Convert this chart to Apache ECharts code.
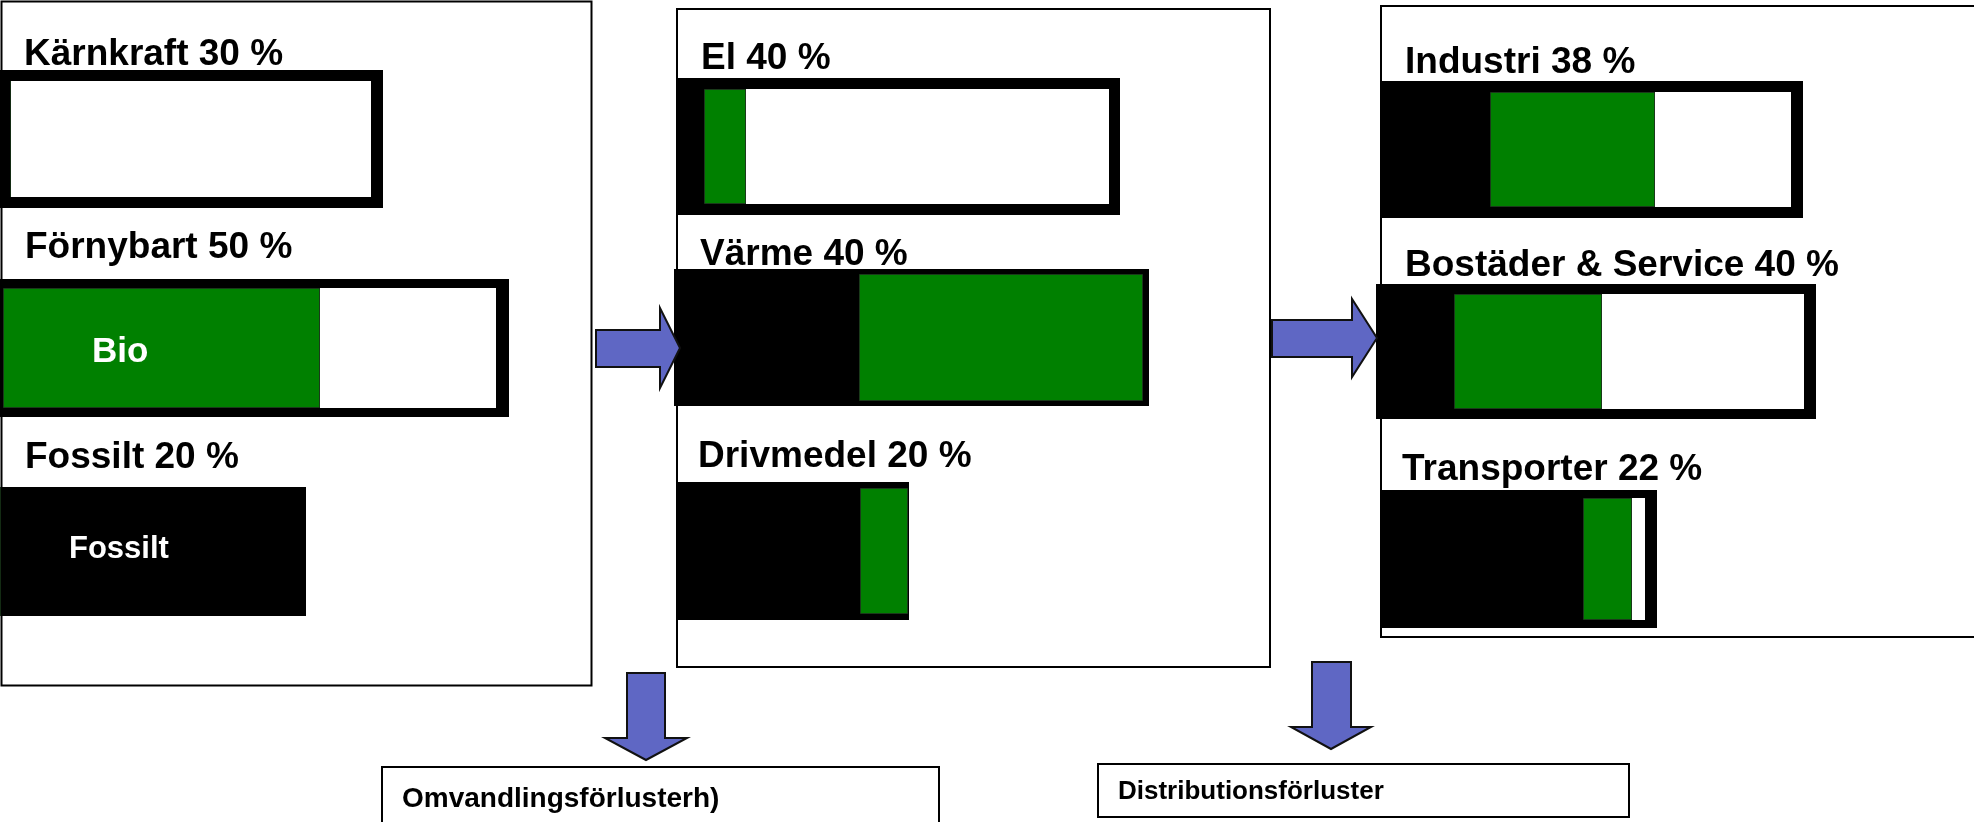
<!DOCTYPE html>
<html>
<head>
<meta charset="UTF-8">
<title>Energiflöden</title>
<script src="https://cdn.jsdelivr.net/npm/echarts@6/dist/echarts.min.js"></script>
<style>
  html, body { margin: 0; padding: 0; background: #fff; }
</style>
</head>
<body>
<div id="main" style="width:1974px;height:822px;"></div>
<script type="text/javascript">
// rader: tillförsel, omvandling, användning
var names = ['Kärnkraft', 'Förnybart', 'Fossilt', 'El', 'Värme', 'Drivmedel', 'Industri', 'Bostäder & Service', 'Transporter'];
var shares = [30, 50, 20, 40, 40, 20, 38, 40, 22];
// staplarnas längder (godtycklig enhet)
var barTotal = [76.6, 101.8, 61.2, 88.8, 95, 46.4, 84.6, 88, 55.4];
var fossilPart = [2.2, 0.6, 0, 5.6, 37, 36.6, 22, 15.6, 40.6];
var bioPart = [0, 63.4, 0, 8.4, 56.8, 9.6, 33, 29.6, 9.8];
var restPart = [72, 35.2, 0, 72.6, 0, 0, 27.2, 40.4, 2.6];
var lossLabels = ['Omvandlingsförlusterh)', 'Distributionsförluster'];

// layout: [vänster, topp, höjd, inre marginal]
var barBox = [
  [0, 70, 138, 11], [0, 279, 138, 9], [0, 487, 129, 0],
  [676, 78, 137, 11], [674, 269, 137, 5], [677, 482, 138, 6],
  [1380, 81, 137, 11], [1376, 284, 135, 10], [1380, 490, 138, 8]
];
// rubrikernas position: [x, mitt y]
var labelPos = [
  [24, 55], [25, 248], [25, 458],
  [701, 59], [700, 255], [698, 457],
  [1405, 63], [1405, 266], [1402, 470]
];

var X_MAX = 110;
var UNIT = 5;
var GREEN = '#008000';
var ARROW = '#5f67c4';
var FONT = '"Liberation Sans", Arial, sans-serif';

var myChart = echarts.init(document.getElementById('main'));

var option = {
  animation: false,
  backgroundColor: '#fff',
  grid: [],
  xAxis: [],
  yAxis: [],
  series: [],
  graphic: { elements: [] }
};

for (var i = 0; i < names.length; i++) {
  var b = barBox[i];
  option.grid.push({
    left: b[0], top: b[1], width: X_MAX * UNIT, height: b[2],
    containLabel: false
  });
  option.xAxis.push({ type: 'value', gridIndex: i, min: 0, max: X_MAX, show: false });
  option.yAxis.push({ type: 'category', gridIndex: i, data: [names[i]], show: false });
  option.yAxis.push({ type: 'category', gridIndex: i, data: [names[i]], show: false });
  var yFrame = i * 2, yInner = i * 2 + 1;
  var inner = b[2] - 2 * b[3];
  // ram
  option.series.push({
    type: 'bar', xAxisIndex: i, yAxisIndex: yFrame, barWidth: '100%',
    data: [barTotal[i]], itemStyle: { color: '#000' }, silent: true
  });
  option.series.push({
    type: 'bar', xAxisIndex: i, yAxisIndex: yInner, stack: 's' + i, barWidth: inner,
    data: [fossilPart[i]], itemStyle: { color: '#000' }, silent: true
  });
  option.series.push({
    type: 'bar', xAxisIndex: i, yAxisIndex: yInner, stack: 's' + i, barWidth: inner,
    data: [bioPart[i]], itemStyle: { color: GREEN, borderColor: '#1a3a1a', borderWidth: 1 }, silent: true
  });
  option.series.push({
    type: 'bar', xAxisIndex: i, yAxisIndex: yInner, stack: 's' + i, barWidth: inner,
    data: [restPart[i]], itemStyle: { color: '#fff' }, silent: true
  });

  option.graphic.elements.push({
    type: 'text', x: labelPos[i][0], y: labelPos[i][1], z: 20,
    style: {
      text: names[i] + ' ' + shares[i] + ' %', fill: '#000',
      font: 'bold 37px ' + FONT, verticalAlign: 'middle', align: 'left'
    }
  });
}

var els = option.graphic.elements;
// panelramar
function box(x, y, w, h, lw) {
  els.push({ type: 'rect', z: 1, shape: { x: x, y: y, width: w, height: h },
    style: { fill: 'none', stroke: '#000', lineWidth: lw } });
}
box(1.5, 1.5, 590, 684, 2);
box(677, 9, 593, 658, 2);
box(1381, 6, 640, 631, 2);
box(382, 767, 557, 58, 2);
box(1098, 764, 531, 53, 2);

// text i staplarna
els.push({ type: 'text', x: 92, y: 352, z: 20,
  style: { text: 'Bio', fill: '#fff', font: 'bold 35px ' + FONT, verticalAlign: 'middle' } });
els.push({ type: 'text', x: 69, y: 549, z: 20,
  style: { text: 'Fossilt', fill: '#fff', font: 'bold 31px ' + FONT, verticalAlign: 'middle' } });

// förlustrutor
els.push({ type: 'text', x: 402, y: 799, z: 20,
  style: { text: lossLabels[0], fill: '#000', font: 'bold 28px ' + FONT, verticalAlign: 'middle' } });
els.push({ type: 'text', x: 1118, y: 792, z: 20,
  style: { text: lossLabels[1], fill: '#000', font: 'bold 26px ' + FONT, verticalAlign: 'middle' } });

// pilar
function arrow(pts) {
  els.push({ type: 'polygon', z: 10, shape: { points: pts },
    style: { fill: ARROW, stroke: '#111', lineWidth: 2 } });
}
arrow([[596, 330], [660, 330], [660, 308], [680, 348], [660, 388], [660, 367], [596, 367]]);
arrow([[1272, 320], [1352, 320], [1352, 299], [1377, 338], [1352, 377], [1352, 357], [1272, 357]]);
arrow([[627, 673], [665, 673], [665, 738], [687, 738], [646, 760], [605, 738], [627, 738]]);
arrow([[1312, 662], [1351, 662], [1351, 727], [1371, 727], [1331, 749], [1291, 727], [1312, 727]]);

myChart.setOption(option);
</script>
</body>
</html>
